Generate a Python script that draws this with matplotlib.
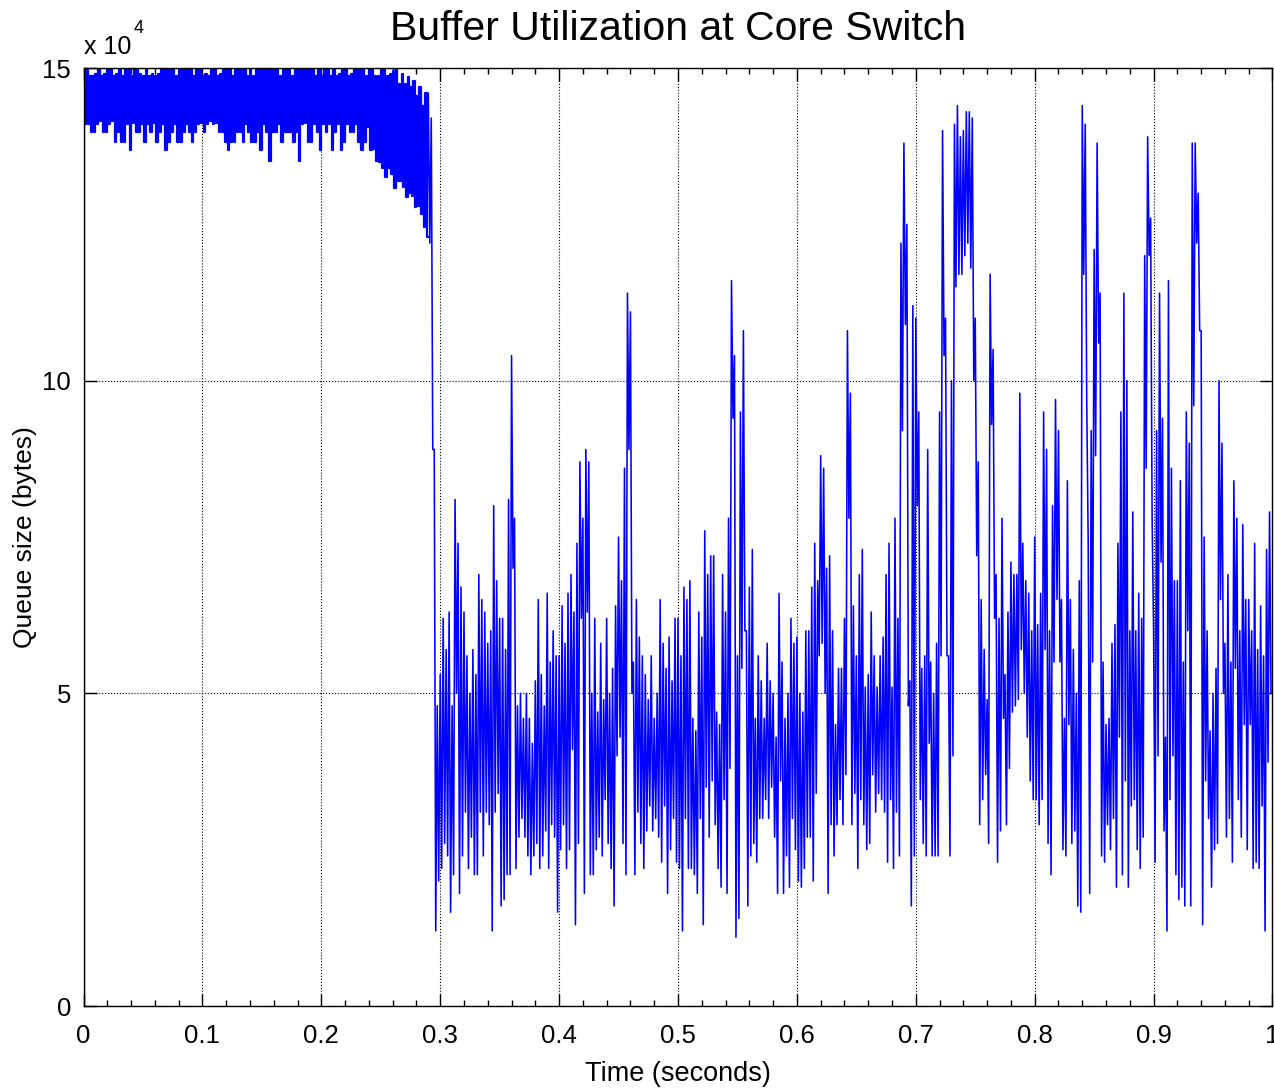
import numpy as np
import matplotlib.pyplot as plt
from matplotlib.ticker import MultipleLocator

plt.rcParams['font.family'] = ['Liberation Sans', 'DejaVu Sans']

# Queue occupancy in units of 1e4 bytes, one peak/trough pair per 2.5 ms
sample_step = 0.0025
start_queue = 0.0

# 0 - 0.29 s: buffer sitting near full
early_peaks = [
    15.0, 15.0, 14.88, 14.88, 14.9, 15.0, 14.88, 14.9, 15.0, 15.0,
    14.88, 14.9, 15.0, 14.88, 15.0, 15.0, 14.88, 15.0, 15.0, 14.9,
    14.88, 15.0, 14.88, 14.9, 14.88, 14.9, 15.0, 15.0, 15.0, 15.0,
    15.0, 14.88, 15.0, 15.0, 15.0, 15.0, 15.0, 14.88, 15.0, 15.0,
    14.88, 14.9, 14.88, 15.0, 15.0, 14.88, 14.9, 15.0, 15.0, 15.0,
    14.88, 15.0, 15.0, 15.0, 15.0, 14.88, 15.0, 14.88, 15.0, 15.0,
    15.0, 15.0, 15.0, 15.0, 15.0, 15.0, 14.88, 15.0, 15.0, 15.0,
    14.88, 15.0, 15.0, 15.0, 15.0, 15.0, 15.0, 15.0, 14.88, 15.0,
    14.88, 15.0, 15.0, 14.88, 15.0, 14.88, 14.9, 15.0, 15.0, 14.88,
    14.9, 15.0, 15.0, 15.0, 15.0, 14.88, 15.0, 15.0, 14.88, 14.88,
    15.0, 15.0, 14.88, 14.9, 14.95, 15.0, 14.75, 14.9, 14.75, 14.85,
    14.7, 14.8, 14.55, 14.7, 14.4, 14.6,
]
early_troughs = [
    14.1, 14.1, 13.98, 13.98, 14.1, 14.15, 13.98, 13.98, 14.1, 14.15,
    13.82, 13.98, 13.82, 13.82, 14.1, 13.69, 14.12, 13.98, 13.98, 14.1,
    13.82, 14.1, 13.98, 14.12, 13.82, 13.98, 14.1, 13.69, 13.82, 13.98,
    14.1, 13.82, 13.82, 13.98, 14.1, 13.98, 13.82, 13.98, 14.1, 14.12,
    13.98, 14.1, 14.15, 14.1, 14.12, 13.98, 13.98, 13.82, 13.69, 13.82,
    13.82, 13.98, 13.98, 13.82, 14.1, 13.98, 13.82, 13.82, 13.98, 13.69,
    14.1, 13.98, 13.52, 13.98, 13.98, 14.1, 13.82, 13.98, 13.98, 13.98,
    13.82, 13.98, 13.52, 14.1, 14.12, 13.82, 13.82, 14.1, 13.98, 13.69,
    14.1, 13.98, 14.1, 13.69, 13.98, 14.1, 13.69, 13.82, 14.1, 13.98,
    13.98, 14.1, 13.82, 13.69, 13.82, 14.05, 13.69, 13.7, 13.52, 13.5,
    13.4, 13.26, 13.4, 13.3, 13.08, 13.2, 13.2, 13.1, 12.93, 13.0,
    12.95, 12.77, 12.8, 12.67, 12.45, 12.3,
]

# 0.29 - 1.0 s: after the drop
late_start = 0.29
late_peaks = [
    14.6, 14.2, 8.9, 4.8, 5.3, 6.2, 5.7, 6.3, 4.8, 8.1, 7.4, 6.7,
    6.3, 5.6, 5.0, 5.7, 5.3, 6.9, 6.5, 6.3, 5.8, 6.0, 8.0, 6.8,
    6.2, 6.2, 5.7, 8.1, 10.4, 7.8, 4.8, 5.0, 4.6, 5.0, 4.6, 4.2,
    5.2, 6.5, 5.3, 4.8, 6.6, 5.5, 6.0, 5.6, 5.6, 6.4, 5.8, 6.6,
    6.9, 6.3, 7.4, 8.7, 7.8, 8.9, 8.7, 5.0, 6.2, 4.7, 5.8, 4.9,
    6.2, 5.0, 5.4, 6.4, 7.5, 6.8, 8.6, 11.4, 11.1, 5.5, 6.5, 5.9,
    5.6, 5.3, 4.9, 5.6, 4.6, 5.0, 6.5, 5.8, 5.4, 5.9, 5.2, 6.2,
    6.2, 5.6, 6.7, 6.5, 6.8, 4.6, 4.4, 6.3, 5.9, 7.6, 6.9, 7.2,
    7.2, 4.7, 4.5, 6.9, 6.3, 7.8, 11.6, 10.4, 5.6, 9.5, 10.8, 6.0,
    6.7, 7.3, 4.6, 5.6, 5.2, 4.6, 5.8, 5.2, 5.0, 4.3, 6.6, 5.5,
    4.6, 5.0, 6.2, 5.8, 5.9, 5.0, 4.7, 6.0, 6.0, 6.7, 7.4, 6.8,
    8.8, 8.6, 7.0, 7.2, 6.0, 4.5, 5.4, 5.4, 6.2, 10.8, 9.8, 6.4,
    5.6, 6.9, 7.3, 5.1, 5.3, 6.3, 5.6, 5.1, 5.6, 5.9, 6.9, 7.4,
    5.1, 7.8, 6.2, 12.2, 13.8, 12.5, 5.2, 11.2, 11.0, 9.5, 5.4, 5.6,
    8.9, 5.5, 5.0, 5.8, 9.5, 14.0, 11.0, 5.6, 10.0, 14.1, 14.4, 13.9,
    14.0, 14.3, 14.3, 14.2, 11.0, 8.7, 6.5, 5.7, 4.9, 11.7, 10.5, 6.9,
    6.2, 7.8, 5.3, 6.3, 7.1, 6.9, 6.9, 9.8, 7.4, 6.8, 6.6, 6.0,
    7.5, 6.1, 6.6, 9.5, 8.9, 6.0, 8.0, 9.7, 9.2, 6.5, 4.6, 8.4,
    6.5, 5.7, 5.0, 6.8, 14.4, 14.1, 7.4, 9.2, 12.1, 13.8, 11.4, 5.5,
    4.5, 4.6, 5.8, 6.1, 7.4, 9.5, 11.4, 10.0, 6.0, 7.9, 6.0, 6.6,
    6.2, 12.0, 13.9, 12.6, 6.0, 9.2, 11.4, 9.4, 4.3, 11.6, 8.6, 6.8,
    6.8, 8.4, 5.5, 9.5, 9.0, 13.8, 13.8, 13.0, 10.8, 7.5, 6.0, 4.4,
    5.0, 5.4, 10.0, 9.0, 5.8, 6.9, 5.5, 8.4, 7.8, 6.0, 7.7, 6.5,
    6.5, 6.0, 7.4, 5.7, 6.4, 5.6, 7.3, 7.9,
]
late_troughs = [
    12.2, 8.9, 1.2, 2.0, 2.2, 2.6, 2.4, 1.5, 2.1, 5.0, 1.8, 2.4,
    3.1, 2.2, 2.7, 2.1, 2.1, 3.1, 2.4, 3.1, 2.9, 1.2, 3.1, 3.4,
    1.6, 1.7, 2.1, 2.1, 7.0, 2.2, 2.7, 3.0, 2.7, 2.4, 2.1, 2.4,
    2.6, 2.2, 2.4, 2.8, 2.2, 2.9, 2.7, 1.5, 2.5, 2.9, 2.2, 2.5,
    4.1, 1.3, 2.6, 6.2, 1.8, 6.3, 2.1, 2.1, 2.5, 2.7, 2.4, 3.3,
    2.6, 2.2, 1.6, 4.0, 4.3, 2.6, 2.1, 8.9, 5.0, 2.1, 3.1, 2.6,
    2.2, 2.8, 3.2, 2.8, 3.0, 2.7, 2.3, 3.2, 1.8, 2.5, 3.0, 2.3,
    2.2, 1.2, 3.0, 2.2, 2.2, 2.1, 1.8, 3.0, 1.3, 3.5, 2.7, 3.6,
    2.9, 2.2, 1.9, 3.3, 1.8, 3.8, 9.4, 1.1, 1.4, 5.4, 6.0, 1.6,
    2.4, 2.6, 2.3, 3.0, 3.0, 3.3, 3.0, 3.5, 2.7, 1.8, 3.6, 1.8,
    2.4, 1.9, 3.0, 2.5, 2.0, 1.9, 2.2, 2.7, 2.7, 2.0, 3.4, 5.6,
    5.8, 5.0, 1.8, 2.9, 2.4, 2.9, 3.3, 2.9, 3.7, 7.8, 2.9, 3.4,
    2.2, 3.3, 2.9, 2.5, 2.6, 3.7, 3.1, 3.4, 3.3, 3.1, 2.3, 3.3,
    2.2, 3.1, 2.4, 9.2, 10.9, 4.8, 1.6, 2.4, 8.0, 3.3, 2.6, 2.4,
    4.2, 2.4, 2.4, 2.4, 5.6, 10.4, 5.6, 2.4, 4.0, 11.5, 11.7, 11.7,
    12.0, 12.2, 11.8, 10.0, 7.2, 2.9, 3.3, 3.7, 2.6, 9.3, 6.2, 2.3,
    2.8, 4.6, 2.9, 3.8, 4.7, 4.8, 4.9, 5.7, 5.0, 4.3, 3.6, 3.3,
    3.3, 2.9, 3.3, 5.7, 2.6, 2.1, 5.5, 6.5, 5.5, 2.5, 2.4, 4.5,
    2.6, 2.8, 1.6, 1.5, 11.7, 9.7, 1.8, 5.5, 8.8, 10.6, 2.4, 2.3,
    2.9, 2.5, 3.0, 1.9, 4.3, 2.1, 3.6, 1.9, 3.2, 3.3, 2.5, 2.2,
    2.7, 8.6, 12.0, 7.8, 2.3, 4.0, 7.1, 2.8, 1.2, 3.3, 4.0, 2.1,
    1.7, 1.9, 1.6, 6.0, 1.6, 9.6, 12.2, 10.8, 1.3, 3.6, 3.0, 1.9,
    2.5, 2.6, 6.5, 5.0, 2.7, 3.0, 2.3, 5.4, 3.3, 2.7, 4.5, 2.5,
    4.5, 2.2, 2.3, 2.2, 3.2, 1.2, 3.9, 5.0,
]

x_ticks = [0, 0.1, 0.2, 0.3, 0.4, 0.5, 0.6, 0.7, 0.8, 0.9, 1.0]
x_tick_labels = ['0', '0.1', '0.2', '0.3', '0.4', '0.5', '0.6', '0.7', '0.8', '0.9', '1']
y_ticks = [0, 5, 10, 15]


def pair_trace(t0, peaks, troughs):
    # each step holds a peak followed by a trough half a step later
    t = t0 + sample_step * np.arange(len(peaks))
    tt = np.column_stack([t, t + sample_step / 2]).ravel()
    qq = np.column_stack([peaks, troughs]).ravel()
    return tt, qq


t_early, q_early = pair_trace(0.0, early_peaks, early_troughs)
t_late, q_late = pair_trace(late_start, late_peaks, late_troughs)
t_early = np.concatenate([[0.0], t_early])
q_early = np.concatenate([[start_queue], q_early])

fig = plt.figure(figsize=(12.74, 10.88), dpi=100)
ax = fig.add_axes([83.5 / 1274, 82 / 1088, 1189 / 1274, 938 / 1088])

blue = (0, 0, 1)
# saturated phase drawn as sample-and-hold so the band reads as solid
ax.plot(np.append(t_early, t_late[0]), np.append(q_early, q_early[-1]),
        color=blue, lw=1.6, drawstyle='steps-post')
ax.plot(np.concatenate([[t_early[-1]], t_late]),
        np.concatenate([[q_early[-1]], q_late]), color=blue, lw=1.15)

ax.set_xlim(0, 1)
ax.set_ylim(0, 15)
ax.set_xticks(x_ticks)
ax.set_xticklabels(x_tick_labels)
ax.set_yticks(y_ticks)
ax.xaxis.set_minor_locator(MultipleLocator(0.02))
ax.tick_params(which='both', direction='in', top=True, right=True,
               labelsize=18.5, width=1)
ax.tick_params(which='major', length=9)
ax.tick_params(axis='x', which='major', pad=13)
ax.tick_params(axis='y', which='major', pad=9)
ax.tick_params(which='minor', length=4.5)
ax.grid(True, which='major', color='black', linestyle=':', linewidth=0.8)
for s in ax.spines.values():
    s.set_linewidth(1.0)

ax.set_title('Buffer Utilization at Core Switch', fontsize=29.5, pad=20)
ax.set_xlabel('Time (seconds)', fontsize=19.5, labelpad=9)
ax.set_ylabel('Queue size (bytes)', fontsize=19, labelpad=4)

ax.text(0.0, 1.01, 'x 10', transform=ax.transAxes, fontsize=18,
        ha='left', va='bottom')
ax.text(0.042, 1.033, '4', transform=ax.transAxes, fontsize=13,
        ha='left', va='bottom')

fig.savefig('out.png', dpi=100)
